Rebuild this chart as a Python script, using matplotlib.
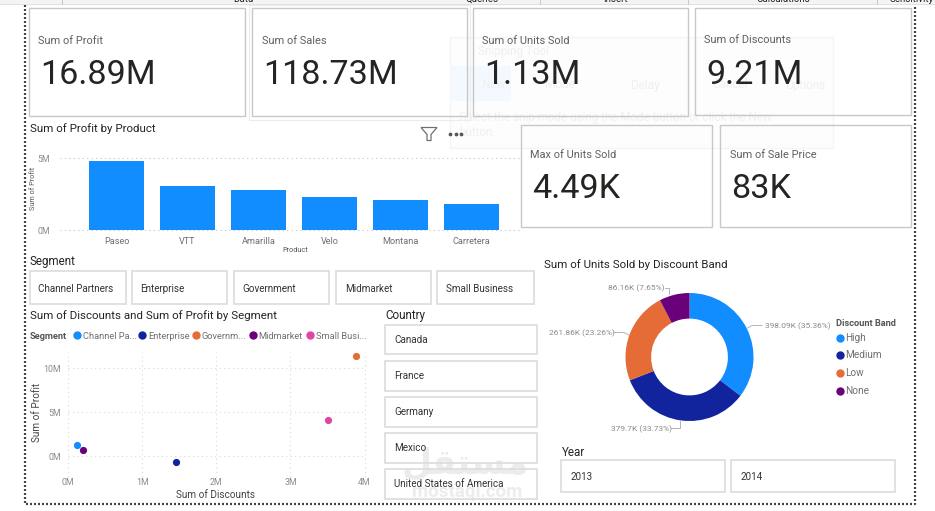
import matplotlib
matplotlib.use("Agg")
import matplotlib.pyplot as plt
from matplotlib.patches import Rectangle, Polygon

W, H = 935, 511
FONT = "Roboto"
plt.rcParams["font.family"] = [FONT, "DejaVu Sans"]

# KPI cards
kpi_labels = ["Sum of Profit", "Sum of Sales", "Sum of Units Sold", "Sum of Discounts",
              "Max of Units Sold", "Sum of Sale Price"]
kpi_values = ["16.89M", "118.73M", "1.13M", "9.21M", "4.49K", "83K"]

# Profit by product, in millions
products = ["Paseo", "VTT", "Amarilla", "Velo", "Montana", "Carretera"]
product_profit = [4.80, 3.03, 2.78, 2.30, 2.10, 1.80]

# Discounts and profit by segment, in millions
segments = ["Channel Partners", "Enterprise", "Government", "Midmarket", "Small Business"]
segment_legend = ["Channel Pa...", "Enterprise", "Governm...", "Midmarket", "Small Busi..."]
segment_discounts = [0.127, 1.453, 3.89, 0.198, 3.505]
segment_profit = [1.32, -0.61, 11.37, 0.68, 4.13]
segment_colors = ["#118DFF", "#12239E", "#E66C37", "#6B007B", "#E044A7"]

# Units sold by discount band, in thousands
bands = ["High", "Medium", "Low", "None"]
band_units = [398.09, 379.7, 261.86, 86.16]
band_labels = ["398.09K (35.36%)", "379.7K (33.73%)", "261.86K (23.26%)", "86.16K (7.65%)"]
band_colors = ["#118DFF", "#12239E", "#E66C37", "#6B007B"]

countries = ["Canada", "France", "Germany", "Mexico", "United States of America"]
years = ["2013", "2014"]
ribbon_tabs = ["Data", "Queries", "Insert", "Calculations", "Sensitivity"]


def axes_px(fig, x0, y0, x1, y1, **kw):
    return fig.add_axes([x0 / W, 1 - y1 / H, (x1 - x0) / W, (y1 - y0) / H], **kw)


fig = plt.figure(figsize=(W / 100, H / 100), dpi=100, facecolor="white")

# Full-page canvas in pixel units for the report furniture
page = axes_px(fig, 0, 0, W, H, zorder=0)
page.set_xlim(0, W)
page.set_ylim(H, 0)
page.axis("off")


def box(x0, y0, x1, y1, edge, lw=1.0, ax=page, z=3):
    ax.add_patch(Rectangle((x0, y0), x1 - x0, y1 - y0, fill=False, ec=edge, lw=lw, zorder=z))


def label(x, y, s, size, color="#333333", ha="left", va="center", weight="normal", ax=page, z=5, **kw):
    ax.text(x, y + 1, s, fontsize=size, color=color, ha=ha, va=va, fontweight=weight, zorder=z, **kw)


# Ribbon remnants along the top edge
page.add_patch(Rectangle((0, 0), W, 4, fc="#f4f4f4", ec="none", zorder=1))
page.plot([0, W], [4.5, 4.5], color="#e2e2e2", lw=0.8, zorder=1)
for sx in [62, 540, 688, 877]:
    page.plot([sx, sx], [0, 4], color="#c8c8c8", lw=0.7, zorder=1)
for cx, tab in zip([243, 482, 615, 783, 912], ribbon_tabs):
    label(cx, 0.5, tab, 7, color="#222222", ha="center", va="baseline", z=2)

# Dotted report boundary
dots = dict(color="#444444", lw=1.6, ls=(0, (0.9, 0.9)), zorder=2)
page.plot([25, 25, 915, 915], [5, 504, 504, 5], **dots)

# Watermark
label(465, 463, "\uFEDE\uFED8\uFE98\uFEB4\uFEE3", 25, color="#ececec", ha="center", weight="bold",
      family="DejaVu Sans", z=1)
label(467, 491, "mostaql.com", 13.5, color="#ececec", ha="center", weight="bold", z=1)

# Faded dialog window lying behind the report
page.add_patch(Rectangle((450, 37), 383, 111, fc="#fdfdfd", ec="#f5f5f5", lw=1, zorder=1))
page.add_patch(Rectangle((451, 66), 60, 35, fc="#f3f9fe", ec="none", zorder=1))
ghost = "#f0f0f0"
label(478, 51, "Snipping Tool", 8.5, color=ghost, z=2)
for gx, gt in zip([482, 545, 631, 712, 785], ["New", "Mode", "Delay", "Cancel", "Options"]):
    label(gx, 84, gt, 8.5, color=ghost, z=2)
label(459, 117, "Select the snip mode using the Mode button or click the New", 8.5, color=ghost, z=2)
label(459, 132, "button.", 8.5, color=ghost, z=2)

# KPI cards
cards = [(29, 8, 245, 116), (252, 8, 467, 116), (473, 8, 688, 116),
         (695, 8, 911, 115), (521, 125, 712, 227), (720, 125, 911, 227)]
label_y = [40, 40, 40, 39, 154, 154]
value_y = [74.5, 74.5, 74.5, 73.5, 188.5, 188.5]
page.add_patch(Rectangle((249, 5), 221, 115, fill=False, ec="#ececec", lw=0.8, zorder=2))
for (x0, y0, x1, y1), name, value, ly, vy in zip(cards, kpi_labels, kpi_values, label_y, value_y):
    box(x0, y0, x1, y1, "#c8c8c8", 1.0)
    label(x0 + 9.5, ly, name, 7.9, color="#606060")
    label(x0 + 11, vy, value, 24.6, color="#252423")

# Bar chart header and visual controls
label(30, 128, "Sum of Profit by Product", 8.25, color="#252423")
page.add_patch(Polygon([(421, 127.5), (437, 127.5), (431, 134.5), (431, 140.5), (427, 140.5), (427, 134.5)],
                       closed=True, fill=False, ec="#707070", lw=0.9, zorder=5))
for dx in [450, 455.5, 461]:
    page.plot([dx], [134], "o", ms=1.7, color="#555555", zorder=5)

# Bar chart
bar_ax = axes_px(fig, 60, 158, 520, 230, zorder=2)
bar_ax.patch.set_alpha(0)
bar_ax.bar(range(len(products)), product_profit, width=0.775, color="#118DFF", zorder=3)
bar_ax.set_xlim(-0.796, 5.68)
bar_ax.set_ylim(0, 5)
bar_ax.set_yticks([0, 5], ["0M", "5M"], fontsize=6.3, color="#8a8a8a")
bar_ax.set_xticks(range(len(products)), products, fontsize=6.6, color="#707070")
bar_ax.tick_params(length=0, pad=5)
bar_ax.tick_params(axis="y", pad=7)
bar_ax.grid(axis="y", color="#c4c4c4", lw=0.8, ls=(0, (1, 3)), clip_on=False)
bar_ax.set_axisbelow(True)
for side in bar_ax.spines.values():
    side.set_visible(False)
label(33.5, 187, "Sum of Profit", 5.2, color="#555555", ha="center", rotation=90)
label(295, 249, "Product", 5.2, color="#555555", ha="center")

# Slicers
label(30, 261, "Segment", 8.4, color="#252423")
seg_boxes = [(29.5, 126), (131.5, 227), (233.5, 329), (336, 431), (437, 534)]
for (x0, x1), name in zip(seg_boxes, segments):
    box(x0, 271, x1, 304, "#dcdcdc", 1.2)
    label(x0 + 9, 287.5, name, 7.1, color="#333333")

label(385, 315, "Country", 8.4, color="#252423")
for (y0, y1), name in zip([(325, 354.5), (361, 391), (397, 427), (433, 463), (469, 499)], countries):
    box(384.5, y0, 537, y1, "#dcdcdc", 1.2)
    label(394, (y0 + y1) / 2 - 1, name, 7.1, color="#333333")

label(562, 451, "Year", 8.4, color="#252423")
for (x0, x1), name in zip([(561, 725), (731, 894.5)], years):
    box(x0, 460.5, x1, 492, "#dcdcdc", 1.2)
    label(x0 + 9.5, 475.5, name, 7.1, color="#333333")

# Scatter chart
label(30, 315, "Sum of Discounts and Sum of Profit by Segment", 8.25, color="#252423")
label(30, 335.5, "Segment", 6.7, color="#555555", weight="bold")
for mx, name, color in zip([77, 142, 195.5, 252.5, 310], segment_legend, segment_colors):
    page.plot([mx], [335.5], "o", ms=5, color=color, zorder=5)
    label(mx + 6, 335.5, name, 6.7, color="#707070")

# Scatter axes: 0M..4M spans 68..364.5 px, and profit 0M..10M spans 456.3..368.5 px
sc_ax = axes_px(fig, 68, 352, 364.5, 477, zorder=2)
sc_ax.patch.set_alpha(0)
for xv, yv, color in zip(segment_discounts, segment_profit, segment_colors):
    sc_ax.scatter([xv], [yv], s=27, color=color, zorder=3, linewidths=0, clip_on=False)
sc_ax.set_xlim(0, 4)
sc_ax.set_ylim(-2.37, 11.88)
sc_ax.set_xticks([0, 1, 2, 3, 4], ["0M", "1M", "2M", "3M", "4M"], fontsize=6.3, color="#8a8a8a")
sc_ax.set_yticks([0, 5, 10], ["0M", "5M", "10M"], fontsize=6.3, color="#8a8a8a")
sc_ax.tick_params(length=0, pad=5)
sc_ax.tick_params(axis="x", pad=0.5)
sc_ax.grid(True, color="#dadada", lw=0.8, ls=(0, (1, 3)), clip_on=False)
sc_ax.set_axisbelow(True)
for side in sc_ax.spines.values():
    side.set_visible(False)
label(36.5, 411, "Sum of Profit", 7.2, color="#444444", ha="center", rotation=90)
label(216, 493.5, "Sum of Discounts", 7.2, color="#444444", ha="center")

# Donut chart
label(544, 264, "Sum of Units Sold by Discount Band", 8.25, color="#252423")
donut_ax = axes_px(fig, 625.5, 293, 753.5, 421, zorder=2)
donut_ax.pie(band_units, colors=band_colors, startangle=90, counterclock=False, radius=1,
             wedgeprops=dict(width=0.4, linewidth=0))
donut_ax.set_xlim(-1, 1)
donut_ax.set_ylim(-1, 1)

label_spots = [(765, 325, "left"), (610.6, 428, "left"), (548.7, 332, "left"), (607.5, 287, "left")]
leaders = [([747.5, 752, 762], [328, 325.5, 325.5]),
           ([671, 680, 680], [428.5, 428.5, 421]),
           ([614, 624, 629], [332.5, 332.5, 335]),
           ([665, 669, 669], [288, 288, 294])]
for (lx, ly, ha), text, (px, py) in zip(label_spots, band_labels, leaders):
    label(lx, ly, text, 6, color="#8a8a8a", ha=ha)
    page.plot(px, py, color="#b5b5b5", lw=0.7, zorder=4)

label(836, 322, "Discount Band", 6.7, color="#555555", weight="bold")
for my, name, color in zip([337.7, 355, 373, 391], bands, band_colors):
    page.plot([840], [my], "o", ms=5, color=color, zorder=5)
    label(845, my - 0.5, name, 7.2, color="#707070")

fig.savefig("out.png", dpi=100, facecolor="white")
